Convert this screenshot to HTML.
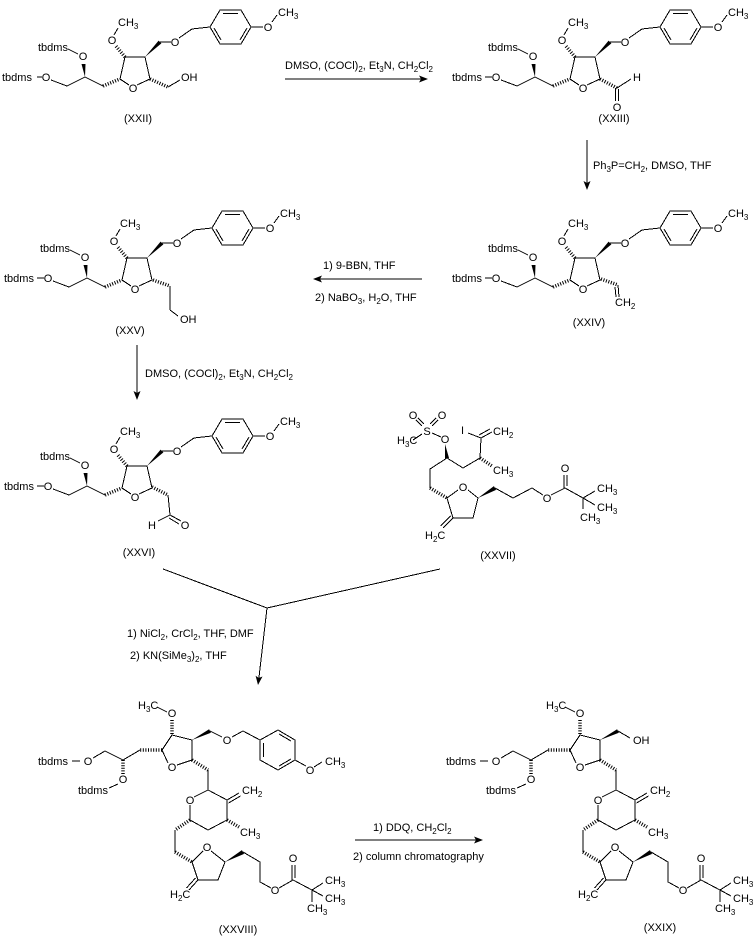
<!DOCTYPE html>
<html><head><meta charset="utf-8"><style>
html,body{margin:0;padding:0;background:#fff;}
svg{display:block;}
text{font-family:"Liberation Sans",Arial,sans-serif;font-size:11px;fill:#000;}
.c{text-anchor:middle;}
.s{font-size:8px;}
line,polyline{stroke:#000;stroke-width:1;fill:none;shape-rendering:crispEdges;}
polygon.o{stroke:#000;stroke-width:1;fill:none;shape-rendering:crispEdges;}
line.h{stroke-width:3.5;stroke-dasharray:1 1.6;shape-rendering:auto;}
polygon.w{fill:#000;stroke:none;}
polygon.a{fill:#000;stroke:none;}
</style></head><body>
<svg width="756" height="936" viewBox="0 0 756 936" xmlns="http://www.w3.org/2000/svg">

<!-- XXII -->
<g transform="translate(-450,0)">
<text x="488" y="51">tbdms</text>
<line x1="518" y1="49" x2="528" y2="54"/>
<text class="c" x="533" y="60">O</text>
<polygon class="w" points="535,77 531.5,64 535.5,64"/>
<text x="452" y="81">tbdms</text>
<line x1="487" y1="77" x2="492" y2="77"/>
<text class="c" x="496" y="81">O</text>
<polyline points="501,80 517,86 535,77 553,86"/>
<line class="h" x1="553" y1="86" x2="570" y2="79"/>
<polyline points="579,85 570,79 575,57 595,57 600,79 587,85"/>
<text class="c" x="583" y="92">O</text>
<line class="h" x1="575" y1="57" x2="565" y2="45"/>
<text class="c" x="562" y="44">O</text>
<line x1="564" y1="35" x2="568" y2="28"/>
<text x="568" y="26">CH<tspan class="s" dy="3">3</tspan></text>
<polygon class="w" points="595,57 611.4,43.4 608.6,40.6"/>
<line x1="610" y1="42" x2="621" y2="42"/>
<text class="c" x="625" y="46">O</text>
<polyline points="629,38 642,29 660,27"/>
<polygon class="o" points="660,27 670,10 691,10 701,27 691,44 670,44"/>
<line x1="673" y1="13.5" x2="688" y2="13.5"/>
<line x1="664" y1="28" x2="671" y2="40"/>
<line x1="697" y1="28" x2="690" y2="40"/>
<line x1="701" y1="27" x2="713" y2="27"/>
<text class="c" x="718" y="31">O</text>
<line x1="722" y1="22" x2="727" y2="15"/>
<text x="728" y="16">CH<tspan class="s" dy="3">3</tspan></text>
</g>
<line class="h" x1="150" y1="79" x2="168" y2="87"/>
<line x1="168" y1="87" x2="180" y2="80"/>
<text x="181" y="81">OH</text>
<text class="c" x="138" y="122">(XXII)</text>

<!-- Arrow 1 -->
<line x1="285" y1="79" x2="421" y2="79"/>
<polygon class="a" points="428,79 419,75.5 421,79 419,82.5"/>
<text x="285" y="69">DMSO, (COCl)<tspan class="s" dy="3">2</tspan><tspan dy="-3">, Et</tspan><tspan class="s" dy="3">3</tspan><tspan dy="-3">N, CH</tspan><tspan class="s" dy="3">2</tspan><tspan dy="-3">Cl</tspan><tspan class="s" dy="3">2</tspan></text>

<!-- XXIII -->
<g>
<text x="488" y="51">tbdms</text>
<line x1="518" y1="49" x2="528" y2="54"/>
<text class="c" x="533" y="60">O</text>
<polygon class="w" points="535,77 531.5,64 535.5,64"/>
<text x="452" y="81">tbdms</text>
<line x1="485" y1="77" x2="492" y2="77"/>
<text class="c" x="496" y="81">O</text>
<polyline points="501,80 517,86 535,77 553,86"/>
<line class="h" x1="553" y1="86" x2="570" y2="79"/>
<polyline points="579,85 570,79 575,57 595,57 600,79 587,85"/>
<text class="c" x="583" y="92">O</text>
<line class="h" x1="575" y1="57" x2="565" y2="45"/>
<text class="c" x="562" y="44">O</text>
<line x1="564" y1="35" x2="568" y2="28"/>
<text x="568" y="26">CH<tspan class="s" dy="3">3</tspan></text>
<polygon class="w" points="595,57 611.4,43.4 608.6,40.6"/>
<line x1="610" y1="42" x2="621" y2="42"/>
<text class="c" x="625" y="46">O</text>
<polyline points="629,38 642,29 660,27"/>
<polygon class="o" points="660,27 670,10 691,10 701,27 691,44 670,44"/>
<line x1="673" y1="13.5" x2="688" y2="13.5"/>
<line x1="664" y1="28" x2="671" y2="40"/>
<line x1="697" y1="28" x2="690" y2="40"/>
<line x1="701" y1="27" x2="713" y2="27"/>
<text class="c" x="718" y="31">O</text>
<line x1="722" y1="22" x2="727" y2="15"/>
<text x="728" y="16">CH<tspan class="s" dy="3">3</tspan></text>
</g>
<line class="h" x1="600" y1="79" x2="617" y2="88"/>
<line x1="615.5" y1="88" x2="615.5" y2="101"/>
<line x1="618.5" y1="89" x2="618.5" y2="101"/>
<text class="c" x="617" y="111">O</text>
<line x1="617" y1="88" x2="631" y2="79"/>
<text x="633" y="81">H</text>
<text class="c" x="614" y="122">(XXIII)</text>

<!-- Arrow 2 -->
<line x1="587" y1="140" x2="587" y2="183"/>
<polygon class="a" points="587,190 583.5,181 587,183 590.5,181"/>
<text x="593" y="169">Ph<tspan class="s" dy="3">3</tspan><tspan dy="-3">P=CH</tspan><tspan class="s" dy="3">2</tspan><tspan dy="-3">, DMSO, THF</tspan></text>

<!-- XXIV -->
<g transform="translate(0,201)">
<text x="488" y="51">tbdms</text>
<line x1="518" y1="49" x2="528" y2="54"/>
<text class="c" x="533" y="60">O</text>
<polygon class="w" points="535,77 531.5,64 535.5,64"/>
<text x="452" y="81">tbdms</text>
<line x1="485" y1="77" x2="492" y2="77"/>
<text class="c" x="496" y="81">O</text>
<polyline points="501,80 517,86 535,77 553,86"/>
<line class="h" x1="553" y1="86" x2="570" y2="79"/>
<polyline points="579,85 570,79 575,57 595,57 600,79 587,85"/>
<text class="c" x="583" y="92">O</text>
<line class="h" x1="575" y1="57" x2="565" y2="45"/>
<text class="c" x="562" y="44">O</text>
<line x1="564" y1="35" x2="568" y2="28"/>
<text x="568" y="26">CH<tspan class="s" dy="3">3</tspan></text>
<polygon class="w" points="595,57 611.4,43.4 608.6,40.6"/>
<line x1="610" y1="42" x2="621" y2="42"/>
<text class="c" x="625" y="46">O</text>
<polyline points="629,38 642,29 660,27"/>
<polygon class="o" points="660,27 670,10 691,10 701,27 691,44 670,44"/>
<line x1="673" y1="13.5" x2="688" y2="13.5"/>
<line x1="664" y1="28" x2="671" y2="40"/>
<line x1="697" y1="28" x2="690" y2="40"/>
<line x1="701" y1="27" x2="713" y2="27"/>
<text class="c" x="718" y="31">O</text>
<line x1="722" y1="22" x2="727" y2="15"/>
<text x="728" y="16">CH<tspan class="s" dy="3">3</tspan></text>
</g>
<line class="h" x1="601" y1="279" x2="618" y2="285"/>
<line x1="618" y1="285" x2="619" y2="297"/>
<line x1="615" y1="287" x2="616" y2="297"/>
<text x="615" y="306">CH<tspan class="s" dy="3">2</tspan></text>
<text class="c" x="589" y="326">(XXIV)</text>

<!-- Arrow 3 -->
<line x1="320" y1="279" x2="422" y2="279"/>
<polygon class="a" points="313,279 322,275.5 320,279 322,282.5"/>
<text x="323" y="269">1) 9-BBN, THF</text>
<text x="315" y="301">2) NaBO<tspan class="s" dy="3">3</tspan><tspan dy="-3">, H</tspan><tspan class="s" dy="3">2</tspan><tspan dy="-3">O, THF</tspan></text>

<!-- XXV -->
<g transform="translate(-448,201)">
<text x="488" y="51">tbdms</text>
<line x1="518" y1="49" x2="528" y2="54"/>
<text class="c" x="533" y="60">O</text>
<polygon class="w" points="535,77 531.5,64 535.5,64"/>
<text x="452" y="81">tbdms</text>
<line x1="485" y1="77" x2="492" y2="77"/>
<text class="c" x="496" y="81">O</text>
<polyline points="501,80 517,86 535,77 553,86"/>
<line class="h" x1="553" y1="86" x2="570" y2="79"/>
<polyline points="579,85 570,79 575,57 595,57 600,79 587,85"/>
<text class="c" x="583" y="92">O</text>
<line class="h" x1="575" y1="57" x2="565" y2="45"/>
<text class="c" x="562" y="44">O</text>
<line x1="564" y1="35" x2="568" y2="28"/>
<text x="568" y="26">CH<tspan class="s" dy="3">3</tspan></text>
<polygon class="w" points="595,57 611.4,43.4 608.6,40.6"/>
<line x1="610" y1="42" x2="621" y2="42"/>
<text class="c" x="625" y="46">O</text>
<polyline points="629,38 642,29 660,27"/>
<polygon class="o" points="660,27 670,10 691,10 701,27 691,44 670,44"/>
<line x1="673" y1="13.5" x2="688" y2="13.5"/>
<line x1="664" y1="28" x2="671" y2="40"/>
<line x1="697" y1="28" x2="690" y2="40"/>
<line x1="701" y1="27" x2="713" y2="27"/>
<text class="c" x="718" y="31">O</text>
<line x1="722" y1="22" x2="727" y2="15"/>
<text x="728" y="16">CH<tspan class="s" dy="3">3</tspan></text>
</g>
<line class="h" x1="153" y1="280" x2="170" y2="286"/>
<line x1="170" y1="286" x2="170" y2="310"/>
<line x1="170" y1="310" x2="178" y2="316"/>
<text x="180" y="323">OH</text>
<text class="c" x="130" y="334">(XXV)</text>

<!-- Arrow 4 -->
<line x1="137" y1="345" x2="137" y2="393"/>
<polygon class="a" points="137,400 133.5,391 137,393 140.5,391"/>
<text x="145" y="377">DMSO, (COCl)<tspan class="s" dy="3">2</tspan><tspan dy="-3">, Et</tspan><tspan class="s" dy="3">3</tspan><tspan dy="-3">N, CH</tspan><tspan class="s" dy="3">2</tspan><tspan dy="-3">Cl</tspan><tspan class="s" dy="3">2</tspan></text>

<!-- XXVI -->
<g transform="translate(-448,409)">
<text x="488" y="51">tbdms</text>
<line x1="518" y1="49" x2="528" y2="54"/>
<text class="c" x="533" y="60">O</text>
<polygon class="w" points="535,77 531.5,64 535.5,64"/>
<text x="452" y="81">tbdms</text>
<line x1="485" y1="77" x2="492" y2="77"/>
<text class="c" x="496" y="81">O</text>
<polyline points="501,80 517,86 535,77 553,86"/>
<line class="h" x1="553" y1="86" x2="570" y2="79"/>
<polyline points="579,85 570,79 575,57 595,57 600,79 587,85"/>
<text class="c" x="583" y="92">O</text>
<line class="h" x1="575" y1="57" x2="565" y2="45"/>
<text class="c" x="562" y="44">O</text>
<line x1="564" y1="35" x2="568" y2="28"/>
<text x="568" y="26">CH<tspan class="s" dy="3">3</tspan></text>
<polygon class="w" points="595,57 611.4,43.4 608.6,40.6"/>
<line x1="610" y1="42" x2="621" y2="42"/>
<text class="c" x="625" y="46">O</text>
<polyline points="629,38 642,29 660,27"/>
<polygon class="o" points="660,27 670,10 691,10 701,27 691,44 670,44"/>
<line x1="673" y1="13.5" x2="688" y2="13.5"/>
<line x1="664" y1="28" x2="671" y2="40"/>
<line x1="697" y1="28" x2="690" y2="40"/>
<line x1="701" y1="27" x2="713" y2="27"/>
<text class="c" x="718" y="31">O</text>
<line x1="722" y1="22" x2="727" y2="15"/>
<text x="728" y="16">CH<tspan class="s" dy="3">3</tspan></text>
</g>
<line class="h" x1="152" y1="487" x2="168" y2="495"/>
<line x1="168" y1="495" x2="170" y2="515"/>
<line x1="170" y1="515" x2="181" y2="521"/>
<line x1="169" y1="518" x2="179" y2="524"/>
<text class="c" x="185" y="529">O</text>
<line x1="170" y1="515" x2="158" y2="521"/>
<text class="c" x="152" y="529">H</text>
<text class="c" x="139" y="556">(XXVI)</text>

<!-- XXVII -->
<text class="c" x="413" y="419">O</text>
<text class="c" x="442" y="419">O</text>
<text class="c" x="427" y="435">S</text>
<line x1="422" y1="426" x2="416" y2="420"/>
<line x1="424" y1="424" x2="418" y2="418"/>
<line x1="432" y1="426" x2="438" y2="420"/>
<line x1="430" y1="424" x2="436" y2="418"/>
<text x="397" y="444">H<tspan class="s" dy="3">3</tspan><tspan dy="-3">C</tspan></text>
<line x1="413" y1="440" x2="422" y2="434"/>
<line x1="432" y1="433" x2="441" y2="437"/>
<text class="c" x="445" y="443">O</text>
<polygon class="w" points="445,444 449,458 445,458.5"/>
<polyline points="447,458 430,469 430,488"/>
<line class="h" x1="430" y1="488" x2="447" y2="498"/>
<polyline points="447,458 463,468 480,458 481,438"/>
<line class="h" x1="480" y1="458" x2="492" y2="466"/>
<text x="493" y="474">CH<tspan class="s" dy="3">3</tspan></text>
<line x1="481" y1="438" x2="468" y2="433"/>
<text x="461" y="434">I</text>
<line x1="481" y1="438" x2="492" y2="432"/>
<line x1="479" y1="435" x2="490" y2="429"/>
<text x="493" y="435">CH<tspan class="s" dy="3">2</tspan></text>
<polyline points="458,490 447,498 453,518 473,518 478,498 468,490"/>
<text class="c" x="463" y="491">O</text>
<line x1="453" y1="518" x2="443" y2="528"/>
<line x1="450.5" y1="516" x2="440.5" y2="526"/>
<text x="425" y="539">H<tspan class="s" dy="3">2</tspan><tspan dy="-3">C</tspan></text>
<polygon class="w" points="478,498 496.1,489.9 493.9,486.1"/>
<polyline points="495,488 513,498 532,488 543,495"/>
<text class="c" x="547" y="502">O</text>
<line x1="551" y1="495" x2="565" y2="488"/>
<line x1="564" y1="488" x2="564" y2="475"/>
<line x1="567" y1="486" x2="567" y2="475"/>
<text class="c" x="565" y="472">O</text>
<line x1="565" y1="488" x2="583" y2="498"/>
<line x1="583" y1="498" x2="595" y2="491"/>
<text x="597" y="492">CH<tspan class="s" dy="3">3</tspan></text>
<line x1="583" y1="498" x2="595" y2="505"/>
<text x="597" y="511">CH<tspan class="s" dy="3">3</tspan></text>
<line x1="583" y1="498" x2="583" y2="509"/>
<text x="580" y="521">CH<tspan class="s" dy="3">3</tspan></text>
<text class="c" x="498" y="559">(XXVII)</text>

<!-- Converging arrow -->
<line x1="163" y1="569" x2="267" y2="608"/>
<line x1="440" y1="569" x2="267" y2="608"/>
<line x1="267" y1="608" x2="258.9" y2="678"/>
<polygon class="a" points="258,685 255.6,675.7 258.8,678 262.5,676.5"/>
<text x="127" y="637">1) NiCl<tspan class="s" dy="3">2</tspan><tspan dy="-3">, CrCl</tspan><tspan class="s" dy="3">2</tspan><tspan dy="-3">, THF, DMF</tspan></text>
<text x="130" y="659">2) KN(SiMe<tspan class="s" dy="3">3</tspan><tspan dy="-3">)</tspan><tspan class="s" dy="3">2</tspan><tspan dy="-3">, THF</tspan></text>

<!-- XXVIII common -->
<g>
<text x="138" y="709">H<tspan class="s" dy="3">3</tspan><tspan dy="-3">C</tspan></text>
<line x1="157" y1="707" x2="167" y2="712"/>
<text class="c" x="172" y="717">O</text>
<line class="h" x1="172" y1="720" x2="172" y2="735"/>
<polyline points="168,763 162,750 172,735 192,740 192,760 177,765"/>
<text class="c" x="172" y="771">O</text>
<line class="h" x1="162" y1="750" x2="140" y2="750"/>
<polyline points="140,750 123,760 105,751 93,758"/>
<text x="38" y="765">tbdms</text>
<line x1="72" y1="761" x2="80" y2="761"/>
<text class="c" x="88" y="765">O</text>
<line class="h" x1="123" y1="760" x2="123" y2="774"/>
<text class="c" x="123" y="783">O</text>
<line x1="118" y1="784" x2="109" y2="788"/>
<text x="78" y="794">tbdms</text>
<line class="h" x1="192" y1="760" x2="208" y2="770"/>
<line x1="208" y1="770" x2="208" y2="790"/>
<polyline points="194,797 208,790 227,800 227,820 208,830 190,820 190,805"/>
<text class="c" x="190" y="804">O</text>
<line x1="227" y1="800" x2="239" y2="793"/>
<line x1="228.5" y1="803" x2="240.5" y2="796"/>
<text x="242" y="794">CH<tspan class="s" dy="3">2</tspan></text>
<line class="h" x1="227" y1="820" x2="239" y2="827"/>
<text x="240" y="836">CH<tspan class="s" dy="3">3</tspan></text>
<line class="h" x1="190" y1="820" x2="175" y2="830"/>
<line x1="175" y1="830" x2="175" y2="852"/>
<line class="h" x1="175" y1="852" x2="192" y2="862"/>
<polyline points="203,851 192,862 198,880 218,880 225,862 211,851"/>
<text class="c" x="207" y="851">O</text>
<line x1="198" y1="880" x2="189" y2="890"/>
<line x1="195.5" y1="878" x2="186.5" y2="888"/>
<text x="170" y="898">H<tspan class="s" dy="3">2</tspan><tspan dy="-3">C</tspan></text>
<polygon class="w" points="225,862 244.1,853.9 241.9,850.1"/>
<polyline points="243,852 260,862 260,882 271,888"/>
<text class="c" x="275" y="894">O</text>
<line x1="279" y1="888" x2="293" y2="880"/>
<line x1="292" y1="880" x2="292" y2="865"/>
<line x1="295" y1="878" x2="295" y2="865"/>
<text class="c" x="293" y="862">O</text>
<line x1="293" y1="880" x2="312" y2="890"/>
<line x1="312" y1="890" x2="323" y2="883"/>
<text x="325" y="884">CH<tspan class="s" dy="3">3</tspan></text>
<line x1="312" y1="890" x2="323" y2="896"/>
<text x="325" y="902">CH<tspan class="s" dy="3">3</tspan></text>
<line x1="312" y1="890" x2="312" y2="902"/>
<text x="307" y="912">CH<tspan class="s" dy="3">3</tspan></text>
</g>
<!-- XXVIII PMB -->
<polygon class="w" points="192,740 210.9,732.8 209.1,729.2"/>
<line x1="210" y1="731" x2="222" y2="737"/>
<text class="c" x="227" y="744">O</text>
<polyline points="232,737 243,731 260,740"/>
<polygon class="o" points="260,740 278,730 295,740 295,760 278,770 260,760"/>
<line x1="263.5" y1="743" x2="263.5" y2="757"/>
<line x1="279" y1="734" x2="291" y2="741"/>
<line x1="291" y1="759" x2="279" y2="766"/>
<line x1="295" y1="760" x2="306" y2="766"/>
<text class="c" x="310" y="774">O</text>
<line x1="314" y1="767" x2="322" y2="762"/>
<text x="325" y="765">CH<tspan class="s" dy="3">3</tspan></text>
<text class="c" x="238" y="933">(XXVIII)</text>

<!-- Arrow 6 -->
<line x1="355" y1="840" x2="476" y2="840"/>
<polygon class="a" points="483,840 474,836.5 476,840 474,843.5"/>
<text x="373" y="831">1) DDQ, CH<tspan class="s" dy="3">2</tspan><tspan dy="-3">Cl</tspan><tspan class="s" dy="3">2</tspan></text>
<text x="353" y="860">2) column chromatography</text>

<!-- XXIX common -->
<g transform="translate(408,0)">
<text x="138" y="709">H<tspan class="s" dy="3">3</tspan><tspan dy="-3">C</tspan></text>
<line x1="157" y1="707" x2="167" y2="712"/>
<text class="c" x="172" y="717">O</text>
<line class="h" x1="172" y1="720" x2="172" y2="735"/>
<polyline points="168,763 162,750 172,735 192,740 192,760 177,765"/>
<text class="c" x="172" y="771">O</text>
<line class="h" x1="162" y1="750" x2="140" y2="750"/>
<polyline points="140,750 123,760 105,751 93,758"/>
<text x="38" y="765">tbdms</text>
<line x1="72" y1="761" x2="80" y2="761"/>
<text class="c" x="88" y="765">O</text>
<line class="h" x1="123" y1="760" x2="123" y2="774"/>
<text class="c" x="123" y="783">O</text>
<line x1="118" y1="784" x2="109" y2="788"/>
<text x="78" y="794">tbdms</text>
<line class="h" x1="192" y1="760" x2="208" y2="770"/>
<line x1="208" y1="770" x2="208" y2="790"/>
<polyline points="194,797 208,790 227,800 227,820 208,830 190,820 190,805"/>
<text class="c" x="190" y="804">O</text>
<line x1="227" y1="800" x2="239" y2="793"/>
<line x1="228.5" y1="803" x2="240.5" y2="796"/>
<text x="242" y="794">CH<tspan class="s" dy="3">2</tspan></text>
<line class="h" x1="227" y1="820" x2="239" y2="827"/>
<text x="240" y="836">CH<tspan class="s" dy="3">3</tspan></text>
<line class="h" x1="190" y1="820" x2="175" y2="830"/>
<line x1="175" y1="830" x2="175" y2="852"/>
<line class="h" x1="175" y1="852" x2="192" y2="862"/>
<polyline points="203,851 192,862 198,880 218,880 225,862 211,851"/>
<text class="c" x="207" y="851">O</text>
<line x1="198" y1="880" x2="189" y2="890"/>
<line x1="195.5" y1="878" x2="186.5" y2="888"/>
<text x="170" y="898">H<tspan class="s" dy="3">2</tspan><tspan dy="-3">C</tspan></text>
<polygon class="w" points="225,862 244.1,853.9 241.9,850.1"/>
<polyline points="243,852 260,862 260,882 271,888"/>
<text class="c" x="275" y="894">O</text>
<line x1="279" y1="888" x2="293" y2="880"/>
<line x1="292" y1="880" x2="292" y2="865"/>
<line x1="295" y1="878" x2="295" y2="865"/>
<text class="c" x="293" y="862">O</text>
<line x1="293" y1="880" x2="312" y2="890"/>
<line x1="312" y1="890" x2="323" y2="883"/>
<text x="325" y="884">CH<tspan class="s" dy="3">3</tspan></text>
<line x1="312" y1="890" x2="323" y2="896"/>
<text x="325" y="902">CH<tspan class="s" dy="3">3</tspan></text>
<line x1="312" y1="890" x2="312" y2="902"/>
<text x="307" y="912">CH<tspan class="s" dy="3">3</tspan></text>
</g>
<!-- XXIX CH2OH -->
<polygon class="w" points="600,740 618.9,732.8 617.1,729.2"/>
<line x1="618" y1="731" x2="630" y2="738"/>
<text x="633" y="744">OH</text>
<text class="c" x="660" y="931">(XXIX)</text>

</svg>
</body></html>
